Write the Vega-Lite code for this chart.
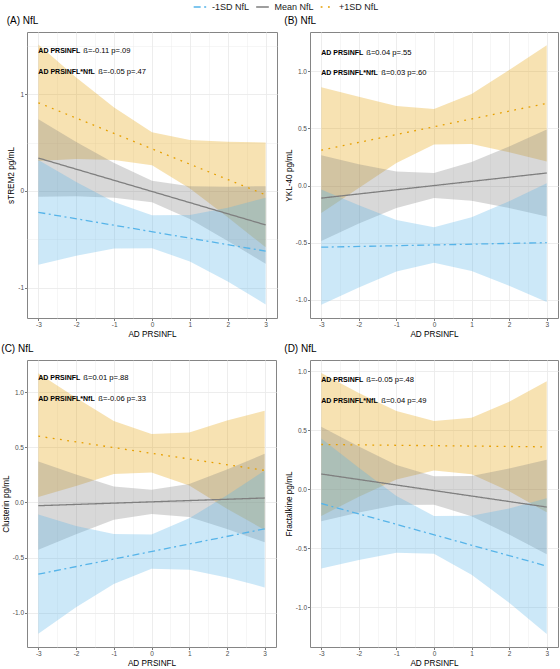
{
  "$schema": "https://vega.github.io/schema/vega-lite/v6.json",
  "padding": {"left": 0, "top": 0, "right": 2, "bottom": 0},
  "datasets": {
    "bands": [
      {"panel": "A", "grp": "+1SD NfL", "x": -3, "lo": 0.31, "hi": 1.51, "est": 0.91},
      {"panel": "A", "grp": "+1SD NfL", "x": -2, "lo": 0.33, "hi": 1.17, "est": null},
      {"panel": "A", "grp": "+1SD NfL", "x": -1, "lo": 0.32, "hi": 0.86, "est": null},
      {"panel": "A", "grp": "+1SD NfL", "x": 0, "lo": 0.265, "hi": 0.605, "est": null},
      {"panel": "A", "grp": "+1SD NfL", "x": 1, "lo": 0.027, "hi": 0.527, "est": null},
      {"panel": "A", "grp": "+1SD NfL", "x": 2, "lo": -0.272, "hi": 0.508, "est": null},
      {"panel": "A", "grp": "+1SD NfL", "x": 3, "lo": -0.58, "hi": 0.5, "est": -0.04},
      {"panel": "A", "grp": "Mean NfL", "x": -3, "lo": -0.06, "hi": 0.74, "est": 0.34},
      {"panel": "A", "grp": "Mean NfL", "x": -2, "lo": -0.055, "hi": 0.505, "est": null},
      {"panel": "A", "grp": "Mean NfL", "x": -1, "lo": -0.07, "hi": 0.29, "est": null},
      {"panel": "A", "grp": "Mean NfL", "x": 0, "lo": -0.115, "hi": 0.105, "est": null},
      {"panel": "A", "grp": "Mean NfL", "x": 1, "lo": -0.29, "hi": 0.05, "est": null},
      {"panel": "A", "grp": "Mean NfL", "x": 2, "lo": -0.515, "hi": 0.045, "est": null},
      {"panel": "A", "grp": "Mean NfL", "x": 3, "lo": -0.75, "hi": 0.05, "est": -0.35},
      {"panel": "A", "grp": "-1SD NfL", "x": -3, "lo": -0.76, "hi": 0.32, "est": -0.22},
      {"panel": "A", "grp": "-1SD NfL", "x": -2, "lo": -0.667, "hi": 0.093, "est": null},
      {"panel": "A", "grp": "-1SD NfL", "x": -1, "lo": -0.593, "hi": -0.113, "est": null},
      {"panel": "A", "grp": "-1SD NfL", "x": 0, "lo": -0.59, "hi": -0.25, "est": null},
      {"panel": "A", "grp": "-1SD NfL", "x": 1, "lo": -0.727, "hi": -0.247, "est": null},
      {"panel": "A", "grp": "-1SD NfL", "x": 2, "lo": -0.933, "hi": -0.173, "est": null},
      {"panel": "A", "grp": "-1SD NfL", "x": 3, "lo": -1.17, "hi": -0.07, "est": -0.62},

      {"panel": "B", "grp": "+1SD NfL", "x": -3, "lo": -0.24, "hi": 0.86, "est": 0.31},
      {"panel": "B", "grp": "+1SD NfL", "x": -2, "lo": -0.022, "hi": 0.778, "est": null},
      {"panel": "B", "grp": "+1SD NfL", "x": -1, "lo": 0.197, "hi": 0.697, "est": null},
      {"panel": "B", "grp": "+1SD NfL", "x": 0, "lo": 0.36, "hi": 0.67, "est": null},
      {"panel": "B", "grp": "+1SD NfL", "x": 1, "lo": 0.363, "hi": 0.803, "est": null},
      {"panel": "B", "grp": "+1SD NfL", "x": 2, "lo": 0.292, "hi": 1.012, "est": null},
      {"panel": "B", "grp": "+1SD NfL", "x": 3, "lo": 0.21, "hi": 1.23, "est": 0.72},
      {"panel": "B", "grp": "Mean NfL", "x": -3, "lo": -0.485, "hi": 0.265, "est": -0.11},
      {"panel": "B", "grp": "Mean NfL", "x": -2, "lo": -0.333, "hi": 0.187, "est": null},
      {"panel": "B", "grp": "Mean NfL", "x": -1, "lo": -0.197, "hi": 0.123, "est": null},
      {"panel": "B", "grp": "Mean NfL", "x": 0, "lo": -0.11, "hi": 0.11, "est": null},
      {"panel": "B", "grp": "Mean NfL", "x": 1, "lo": -0.133, "hi": 0.207, "est": null},
      {"panel": "B", "grp": "Mean NfL", "x": 2, "lo": -0.197, "hi": 0.343, "est": null},
      {"panel": "B", "grp": "Mean NfL", "x": 3, "lo": -0.27, "hi": 0.49, "est": 0.11},
      {"panel": "B", "grp": "-1SD NfL", "x": -3, "lo": -1.045, "hi": -0.035, "est": -0.54},
      {"panel": "B", "grp": "-1SD NfL", "x": -2, "lo": -0.893, "hi": -0.173, "est": null},
      {"panel": "B", "grp": "-1SD NfL", "x": -1, "lo": -0.752, "hi": -0.302, "est": null},
      {"panel": "B", "grp": "-1SD NfL", "x": 0, "lo": -0.675, "hi": -0.365, "est": null},
      {"panel": "B", "grp": "-1SD NfL", "x": 1, "lo": -0.748, "hi": -0.278, "est": null},
      {"panel": "B", "grp": "-1SD NfL", "x": 2, "lo": -0.877, "hi": -0.137, "est": null},
      {"panel": "B", "grp": "-1SD NfL", "x": 3, "lo": -1.02, "hi": 0.02, "est": -0.5},

      {"panel": "C", "grp": "+1SD NfL", "x": -3, "lo": 0.05, "hi": 1.17, "est": 0.6},
      {"panel": "C", "grp": "+1SD NfL", "x": -2, "lo": 0.148, "hi": 0.948, "est": null},
      {"panel": "C", "grp": "+1SD NfL", "x": -1, "lo": 0.257, "hi": 0.737, "est": null},
      {"panel": "C", "grp": "+1SD NfL", "x": 0, "lo": 0.27, "hi": 0.62, "est": null},
      {"panel": "C", "grp": "+1SD NfL", "x": 1, "lo": 0.153, "hi": 0.633, "est": null},
      {"panel": "C", "grp": "+1SD NfL", "x": 2, "lo": -0.058, "hi": 0.742, "est": null},
      {"panel": "C", "grp": "+1SD NfL", "x": 3, "lo": -0.25, "hi": 0.83, "est": 0.29},
      {"panel": "C", "grp": "Mean NfL", "x": -3, "lo": -0.43, "hi": 0.37, "est": -0.03},
      {"panel": "C", "grp": "Mean NfL", "x": -2, "lo": -0.288, "hi": 0.252, "est": null},
      {"panel": "C", "grp": "Mean NfL", "x": -1, "lo": -0.157, "hi": 0.143, "est": null},
      {"panel": "C", "grp": "Mean NfL", "x": 0, "lo": -0.105, "hi": 0.115, "est": null},
      {"panel": "C", "grp": "Mean NfL", "x": 1, "lo": -0.133, "hi": 0.167, "est": null},
      {"panel": "C", "grp": "Mean NfL", "x": 2, "lo": -0.242, "hi": 0.298, "est": null},
      {"panel": "C", "grp": "Mean NfL", "x": 3, "lo": -0.36, "hi": 0.44, "est": 0.04},
      {"panel": "C", "grp": "-1SD NfL", "x": -3, "lo": -1.19, "hi": -0.11, "est": -0.65},
      {"panel": "C", "grp": "-1SD NfL", "x": -2, "lo": -0.95, "hi": -0.214, "est": null},
      {"panel": "C", "grp": "-1SD NfL", "x": -1, "lo": -0.74, "hi": -0.286, "est": null},
      {"panel": "C", "grp": "-1SD NfL", "x": 0, "lo": -0.6, "hi": -0.29, "est": null},
      {"panel": "C", "grp": "-1SD NfL", "x": 1, "lo": -0.61, "hi": -0.144, "est": null},
      {"panel": "C", "grp": "-1SD NfL", "x": 2, "lo": -0.68, "hi": 0.064, "est": null},
      {"panel": "C", "grp": "-1SD NfL", "x": 3, "lo": -0.77, "hi": 0.29, "est": -0.24},

      {"panel": "D", "grp": "+1SD NfL", "x": -3, "lo": -0.225, "hi": 0.985, "est": 0.38},
      {"panel": "D", "grp": "+1SD NfL", "x": -2, "lo": -0.063, "hi": 0.817, "est": null},
      {"panel": "D", "grp": "+1SD NfL", "x": -1, "lo": 0.083, "hi": 0.663, "est": null},
      {"panel": "D", "grp": "+1SD NfL", "x": 0, "lo": 0.16, "hi": 0.58, "est": null},
      {"panel": "D", "grp": "+1SD NfL", "x": 1, "lo": 0.127, "hi": 0.607, "est": null},
      {"panel": "D", "grp": "+1SD NfL", "x": 2, "lo": -0.017, "hi": 0.743, "est": null},
      {"panel": "D", "grp": "+1SD NfL", "x": 3, "lo": -0.195, "hi": 0.915, "est": 0.36},
      {"panel": "D", "grp": "Mean NfL", "x": -3, "lo": -0.27, "hi": 0.53, "est": 0.13},
      {"panel": "D", "grp": "Mean NfL", "x": -2, "lo": -0.197, "hi": 0.363, "est": null},
      {"panel": "D", "grp": "Mean NfL", "x": -1, "lo": -0.133, "hi": 0.207, "est": null},
      {"panel": "D", "grp": "Mean NfL", "x": 0, "lo": -0.13, "hi": 0.11, "est": null},
      {"panel": "D", "grp": "Mean NfL", "x": 1, "lo": -0.227, "hi": 0.113, "est": null},
      {"panel": "D", "grp": "Mean NfL", "x": 2, "lo": -0.383, "hi": 0.177, "est": null},
      {"panel": "D", "grp": "Mean NfL", "x": 3, "lo": -0.55, "hi": 0.25, "est": -0.15},
      {"panel": "D", "grp": "-1SD NfL", "x": -3, "lo": -0.67, "hi": 0.43, "est": -0.12},
      {"panel": "D", "grp": "-1SD NfL", "x": -2, "lo": -0.598, "hi": 0.182, "est": null},
      {"panel": "D", "grp": "-1SD NfL", "x": -1, "lo": -0.537, "hi": -0.057, "est": null},
      {"panel": "D", "grp": "-1SD NfL", "x": 0, "lo": -0.545, "hi": -0.225, "est": null},
      {"panel": "D", "grp": "-1SD NfL", "x": 1, "lo": -0.723, "hi": -0.223, "est": null},
      {"panel": "D", "grp": "-1SD NfL", "x": 2, "lo": -0.962, "hi": -0.162, "est": null},
      {"panel": "D", "grp": "-1SD NfL", "x": 3, "lo": -1.225, "hi": -0.075, "est": -0.65}
    ],
    "notes": [
      {"panel": "A", "line": 1, "x": -3, "y": 1.44, "lead": "AD PRSINFL", "stat": "ß=-0.11 p=.09"},
      {"panel": "A", "line": 2, "x": -3, "y": 1.23, "lead": "AD PRSINFL*NfL", "stat": "ß=-0.05 p=.47"},
      {"panel": "B", "line": 1, "x": -3, "y": 1.163, "lead": "AD PRSINFL", "stat": "ß=0.04 p=.55"},
      {"panel": "B", "line": 2, "x": -3, "y": 0.988, "lead": "AD PRSINFL*NfL", "stat": "ß=0.03 p=.60"},
      {"panel": "C", "line": 1, "x": -3, "y": 1.124, "lead": "AD PRSINFL", "stat": "ß=0.01 p=.88"},
      {"panel": "C", "line": 2, "x": -3, "y": 0.938, "lead": "AD PRSINFL*NfL", "stat": "ß=-0.06 p=.33"},
      {"panel": "D", "line": 1, "x": -3, "y": 0.924, "lead": "AD PRSINFL", "stat": "ß=-0.05 p=.48"},
      {"panel": "D", "line": 2, "x": -3, "y": 0.751, "lead": "AD PRSINFL*NfL", "stat": "ß=0.04 p=.49"}
    ]
  },
  "config": {
    "font": "Liberation Sans",
    "view": {"stroke": "#858585", "strokeWidth": 1},
    "axis": {
      "domain": false, "tickColor": "#555555", "tickSize": 2.5, "tickWidth": 0.8, "labelOverlap": false,
      "labelFont": "Liberation Sans", "labelFontSize": 6.5, "labelColor": "#4d4d4d", "labelPadding": 1,
      "titleFont": "Liberation Sans", "titleFontSize": 8.2, "titleFontWeight": "normal", "titleColor": "#000000", "titlePadding": 2,
      "gridColor": "#ebebeb"
    },
    "axisX": {"labelPadding": 0.5, "titlePadding": 2.5},
    "title": {"anchor": "start", "frame": "bounds", "fontSize": 10, "fontWeight": "normal", "font": "Liberation Sans", "color": "#000000", "offset": 6},
    "legend": {"labelFont": "Liberation Sans", "labelFontSize": 9, "labelColor": "#1a1a1a", "symbolSize": 160, "symbolStrokeWidth": 1.3, "labelOffset": 5, "columnPadding": 3.5, "padding": 0}
  },
  "columns": 2,
  "align": "none",
  "spacing": {"row": 5, "column": 5},
  "concat": [
    {
      "width": 250, "height": 286,
      "title": "(A)  NfL",
      "encoding": {"x": {"field": "x", "type": "quantitative", "title": "AD PRSINFL", "scale": {"domain": [-3.3, 3.3], "nice": false, "zero": false},
        "axis": {"values": [-3, -2.5, -2, -1.5, -1, -0.5, 0, 0.5, 1, 1.5, 2, 2.5, 3],
          "labelExpr": "datum.value % 1 === 0 ? (datum.value < 0 ? '-' : '') + format(abs(datum.value), 'd') : ''",
          "tickOpacity": {"condition": {"test": "datum.value % 1 !== 0", "value": 0}, "value": 1},
          "gridWidth": {"condition": {"test": "datum.value % 1 !== 0", "value": 0.45}, "value": 0.9}}}},
      "layer": [
        {"data": {"name": "bands"}, "transform": [{"filter": "datum.panel === 'A'"}],
         "mark": {"type": "area", "opacity": 0.3},
         "encoding": {
           "y": {"field": "lo", "type": "quantitative", "title": "sTREM2 pg/mL", "scale": {"domain": [-1.31, 1.64], "nice": false, "zero": false},
             "axis": {"values": [-1, -0.5, 0, 0.5, 1, 1.5],
               "labelExpr": "datum.value % 1 === 0 ? (datum.value < 0 ? '-' : '') + format(abs(datum.value), 'd') : ''",
               "tickOpacity": {"condition": {"test": "datum.value % 1 !== 0", "value": 0}, "value": 1},
               "gridWidth": {"condition": {"test": "datum.value % 1 !== 0", "value": 0.45}, "value": 0.9}}},
           "y2": {"field": "hi"},
           "fill": {"field": "grp", "type": "nominal", "scale": {"range": ["#E69F00", "#56B4E9", "#7f7f7f"]}, "legend": null}}},
        {"data": {"name": "bands"}, "transform": [{"filter": "datum.panel === 'A'"}],
         "mark": {"type": "line", "strokeWidth": 1.3, "invalid": "filter"},
         "encoding": {
           "y": {"field": "est", "type": "quantitative", "title": "sTREM2 pg/mL"},
           "stroke": {"field": "grp", "type": "nominal", "scale": {"domain": ["-1SD NfL", "Mean NfL", "+1SD NfL"], "range": ["#56B4E9", "#7f7f7f", "#E69F00"]},
             "legend": {"orient": "none", "legendX": 166, "legendY": -32, "direction": "horizontal", "title": null}},
           "strokeDash": {"field": "grp", "type": "nominal", "scale": {"domain": ["-1SD NfL", "Mean NfL", "+1SD NfL"], "range": [[7, 3.5, 2, 3.5], [1, 0], [1.8, 5.5]]},
             "legend": {"orient": "none", "legendX": 166, "legendY": -32, "direction": "horizontal", "title": null}}}},
        {"data": {"name": "notes"}, "transform": [{"filter": "datum.panel === 'A'"}],
         "mark": {"type": "text", "align": "left", "baseline": "middle", "fontSize": 7, "fontWeight": "bold", "color": "#000000"},
         "encoding": {"y": {"field": "y", "type": "quantitative", "title": "sTREM2 pg/mL"}, "text": {"field": "lead"}}},
        {"data": {"name": "notes"}, "transform": [{"filter": "datum.panel === 'A' && datum.line === 1"}],
         "mark": {"type": "text", "align": "left", "baseline": "middle", "fontSize": 7.6, "color": "#000000", "dx": 45},
         "encoding": {"y": {"field": "y", "type": "quantitative", "title": "sTREM2 pg/mL"}, "text": {"field": "stat"}}},
        {"data": {"name": "notes"}, "transform": [{"filter": "datum.panel === 'A' && datum.line === 2"}],
         "mark": {"type": "text", "align": "left", "baseline": "middle", "fontSize": 7.6, "color": "#000000", "dx": 60},
         "encoding": {"y": {"field": "y", "type": "quantitative", "title": "sTREM2 pg/mL"}, "text": {"field": "stat"}}}
      ]
    },
    {
      "width": 248, "height": 286,
      "title": "(B)  NfL",
      "encoding": {"x": {"field": "x", "type": "quantitative", "title": "AD PRSINFL", "scale": {"domain": [-3.3, 3.3], "nice": false, "zero": false},
        "axis": {"values": [-3, -2.5, -2, -1.5, -1, -0.5, 0, 0.5, 1, 1.5, 2, 2.5, 3],
          "labelExpr": "datum.value % 1 === 0 ? (datum.value < 0 ? '-' : '') + format(abs(datum.value), 'd') : ''",
          "tickOpacity": {"condition": {"test": "datum.value % 1 !== 0", "value": 0}, "value": 1},
          "gridWidth": {"condition": {"test": "datum.value % 1 !== 0", "value": 0.45}, "value": 0.9}}}},
      "layer": [
        {"data": {"name": "bands"}, "transform": [{"filter": "datum.panel === 'B'"}],
         "mark": {"type": "area", "opacity": 0.3},
         "encoding": {
           "y": {"field": "lo", "type": "quantitative", "title": "YKL-40 pg/mL", "scale": {"domain": [-1.16, 1.345], "nice": false, "zero": false},
             "axis": {"values": [-1, -0.75, -0.5, -0.25, 0, 0.25, 0.5, 0.75, 1, 1.25],
               "labelExpr": "datum.value % 0.5 === 0 ? (datum.value < 0 ? '-' : '') + format(abs(datum.value), '.1f') : ''",
               "tickOpacity": {"condition": {"test": "datum.value % 0.5 !== 0", "value": 0}, "value": 1},
               "gridWidth": {"condition": {"test": "datum.value % 0.5 !== 0", "value": 0.45}, "value": 0.9}}},
           "y2": {"field": "hi"},
           "fill": {"field": "grp", "type": "nominal", "scale": {"range": ["#E69F00", "#56B4E9", "#7f7f7f"]}, "legend": null}}},
        {"data": {"name": "bands"}, "transform": [{"filter": "datum.panel === 'B'"}],
         "mark": {"type": "line", "strokeWidth": 1.3, "invalid": "filter"},
         "encoding": {
           "y": {"field": "est", "type": "quantitative", "title": "YKL-40 pg/mL"},
           "stroke": {"field": "grp", "type": "nominal", "scale": {"domain": ["-1SD NfL", "Mean NfL", "+1SD NfL"], "range": ["#56B4E9", "#7f7f7f", "#E69F00"]},
             "legend": {"orient": "none", "legendX": 166, "legendY": -32, "direction": "horizontal", "title": null}},
           "strokeDash": {"field": "grp", "type": "nominal", "scale": {"domain": ["-1SD NfL", "Mean NfL", "+1SD NfL"], "range": [[7, 3.5, 2, 3.5], [1, 0], [1.8, 5.5]]},
             "legend": {"orient": "none", "legendX": 166, "legendY": -32, "direction": "horizontal", "title": null}}}},
        {"data": {"name": "notes"}, "transform": [{"filter": "datum.panel === 'B'"}],
         "mark": {"type": "text", "align": "left", "baseline": "middle", "fontSize": 7, "fontWeight": "bold", "color": "#000000"},
         "encoding": {"y": {"field": "y", "type": "quantitative", "title": "YKL-40 pg/mL"}, "text": {"field": "lead"}}},
        {"data": {"name": "notes"}, "transform": [{"filter": "datum.panel === 'B' && datum.line === 1"}],
         "mark": {"type": "text", "align": "left", "baseline": "middle", "fontSize": 7.6, "color": "#000000", "dx": 45},
         "encoding": {"y": {"field": "y", "type": "quantitative", "title": "YKL-40 pg/mL"}, "text": {"field": "stat"}}},
        {"data": {"name": "notes"}, "transform": [{"filter": "datum.panel === 'B' && datum.line === 2"}],
         "mark": {"type": "text", "align": "left", "baseline": "middle", "fontSize": 7.6, "color": "#000000", "dx": 60},
         "encoding": {"y": {"field": "y", "type": "quantitative", "title": "YKL-40 pg/mL"}, "text": {"field": "stat"}}}
      ]
    },
    {
      "width": 249, "height": 287,
      "title": "(C)  NfL",
      "encoding": {"x": {"field": "x", "type": "quantitative", "title": "AD PRSINFL", "scale": {"domain": [-3.3, 3.3], "nice": false, "zero": false},
        "axis": {"values": [-3, -2.5, -2, -1.5, -1, -0.5, 0, 0.5, 1, 1.5, 2, 2.5, 3],
          "labelExpr": "datum.value % 1 === 0 ? (datum.value < 0 ? '-' : '') + format(abs(datum.value), 'd') : ''",
          "tickOpacity": {"condition": {"test": "datum.value % 1 !== 0", "value": 0}, "value": 1},
          "gridWidth": {"condition": {"test": "datum.value % 1 !== 0", "value": 0.45}, "value": 0.9}}}},
      "layer": [
        {"data": {"name": "bands"}, "transform": [{"filter": "datum.panel === 'C'"}],
         "mark": {"type": "area", "opacity": 0.3},
         "encoding": {
           "y": {"field": "lo", "type": "quantitative", "title": "Clusterin pg/mL", "scale": {"domain": [-1.31, 1.29], "nice": false, "zero": false},
             "axis": {"values": [-1, -0.75, -0.5, -0.25, 0, 0.25, 0.5, 0.75, 1, 1.25],
               "labelExpr": "datum.value % 0.5 === 0 ? (datum.value < 0 ? '-' : '') + format(abs(datum.value), '.1f') : ''",
               "tickOpacity": {"condition": {"test": "datum.value % 0.5 !== 0", "value": 0}, "value": 1},
               "gridWidth": {"condition": {"test": "datum.value % 0.5 !== 0", "value": 0.45}, "value": 0.9}}},
           "y2": {"field": "hi"},
           "fill": {"field": "grp", "type": "nominal", "scale": {"range": ["#E69F00", "#56B4E9", "#7f7f7f"]}, "legend": null}}},
        {"data": {"name": "bands"}, "transform": [{"filter": "datum.panel === 'C'"}],
         "mark": {"type": "line", "strokeWidth": 1.3, "invalid": "filter"},
         "encoding": {
           "y": {"field": "est", "type": "quantitative", "title": "Clusterin pg/mL"},
           "stroke": {"field": "grp", "type": "nominal", "scale": {"domain": ["-1SD NfL", "Mean NfL", "+1SD NfL"], "range": ["#56B4E9", "#7f7f7f", "#E69F00"]},
             "legend": {"orient": "none", "legendX": 166, "legendY": -32, "direction": "horizontal", "title": null}},
           "strokeDash": {"field": "grp", "type": "nominal", "scale": {"domain": ["-1SD NfL", "Mean NfL", "+1SD NfL"], "range": [[7, 3.5, 2, 3.5], [1, 0], [1.8, 5.5]]},
             "legend": {"orient": "none", "legendX": 166, "legendY": -32, "direction": "horizontal", "title": null}}}},
        {"data": {"name": "notes"}, "transform": [{"filter": "datum.panel === 'C'"}],
         "mark": {"type": "text", "align": "left", "baseline": "middle", "fontSize": 7, "fontWeight": "bold", "color": "#000000"},
         "encoding": {"y": {"field": "y", "type": "quantitative", "title": "Clusterin pg/mL"}, "text": {"field": "lead"}}},
        {"data": {"name": "notes"}, "transform": [{"filter": "datum.panel === 'C' && datum.line === 1"}],
         "mark": {"type": "text", "align": "left", "baseline": "middle", "fontSize": 7.6, "color": "#000000", "dx": 45},
         "encoding": {"y": {"field": "y", "type": "quantitative", "title": "Clusterin pg/mL"}, "text": {"field": "stat"}}},
        {"data": {"name": "notes"}, "transform": [{"filter": "datum.panel === 'C' && datum.line === 2"}],
         "mark": {"type": "text", "align": "left", "baseline": "middle", "fontSize": 7.6, "color": "#000000", "dx": 60},
         "encoding": {"y": {"field": "y", "type": "quantitative", "title": "Clusterin pg/mL"}, "text": {"field": "stat"}}}
      ]
    },
    {
      "width": 248, "height": 287,
      "title": "(D)  NfL",
      "encoding": {"x": {"field": "x", "type": "quantitative", "title": "AD PRSINFL", "scale": {"domain": [-3.3, 3.3], "nice": false, "zero": false},
        "axis": {"values": [-3, -2.5, -2, -1.5, -1, -0.5, 0, 0.5, 1, 1.5, 2, 2.5, 3],
          "labelExpr": "datum.value % 1 === 0 ? (datum.value < 0 ? '-' : '') + format(abs(datum.value), 'd') : ''",
          "tickOpacity": {"condition": {"test": "datum.value % 1 !== 0", "value": 0}, "value": 1},
          "gridWidth": {"condition": {"test": "datum.value % 1 !== 0", "value": 0.45}, "value": 0.9}}}},
      "layer": [
        {"data": {"name": "bands"}, "transform": [{"filter": "datum.panel === 'D'"}],
         "mark": {"type": "area", "opacity": 0.3},
         "encoding": {
           "y": {"field": "lo", "type": "quantitative", "title": "Fractalkine pg/mL", "scale": {"domain": [-1.336, 1.096], "nice": false, "zero": false},
             "axis": {"values": [-1, -0.75, -0.5, -0.25, 0, 0.25, 0.5, 0.75, 1],
               "labelExpr": "datum.value % 0.5 === 0 ? (datum.value < 0 ? '-' : '') + format(abs(datum.value), '.1f') : ''",
               "tickOpacity": {"condition": {"test": "datum.value % 0.5 !== 0", "value": 0}, "value": 1},
               "gridWidth": {"condition": {"test": "datum.value % 0.5 !== 0", "value": 0.45}, "value": 0.9}}},
           "y2": {"field": "hi"},
           "fill": {"field": "grp", "type": "nominal", "scale": {"range": ["#E69F00", "#56B4E9", "#7f7f7f"]}, "legend": null}}},
        {"data": {"name": "bands"}, "transform": [{"filter": "datum.panel === 'D'"}],
         "mark": {"type": "line", "strokeWidth": 1.3, "invalid": "filter"},
         "encoding": {
           "y": {"field": "est", "type": "quantitative", "title": "Fractalkine pg/mL"},
           "stroke": {"field": "grp", "type": "nominal", "scale": {"domain": ["-1SD NfL", "Mean NfL", "+1SD NfL"], "range": ["#56B4E9", "#7f7f7f", "#E69F00"]},
             "legend": {"orient": "none", "legendX": 166, "legendY": -32, "direction": "horizontal", "title": null}},
           "strokeDash": {"field": "grp", "type": "nominal", "scale": {"domain": ["-1SD NfL", "Mean NfL", "+1SD NfL"], "range": [[7, 3.5, 2, 3.5], [1, 0], [1.8, 5.5]]},
             "legend": {"orient": "none", "legendX": 166, "legendY": -32, "direction": "horizontal", "title": null}}}},
        {"data": {"name": "notes"}, "transform": [{"filter": "datum.panel === 'D'"}],
         "mark": {"type": "text", "align": "left", "baseline": "middle", "fontSize": 7, "fontWeight": "bold", "color": "#000000"},
         "encoding": {"y": {"field": "y", "type": "quantitative", "title": "Fractalkine pg/mL"}, "text": {"field": "lead"}}},
        {"data": {"name": "notes"}, "transform": [{"filter": "datum.panel === 'D' && datum.line === 1"}],
         "mark": {"type": "text", "align": "left", "baseline": "middle", "fontSize": 7.6, "color": "#000000", "dx": 45},
         "encoding": {"y": {"field": "y", "type": "quantitative", "title": "Fractalkine pg/mL"}, "text": {"field": "stat"}}},
        {"data": {"name": "notes"}, "transform": [{"filter": "datum.panel === 'D' && datum.line === 2"}],
         "mark": {"type": "text", "align": "left", "baseline": "middle", "fontSize": 7.6, "color": "#000000", "dx": 60},
         "encoding": {"y": {"field": "y", "type": "quantitative", "title": "Fractalkine pg/mL"}, "text": {"field": "stat"}}}
      ]
    }
  ]
}
